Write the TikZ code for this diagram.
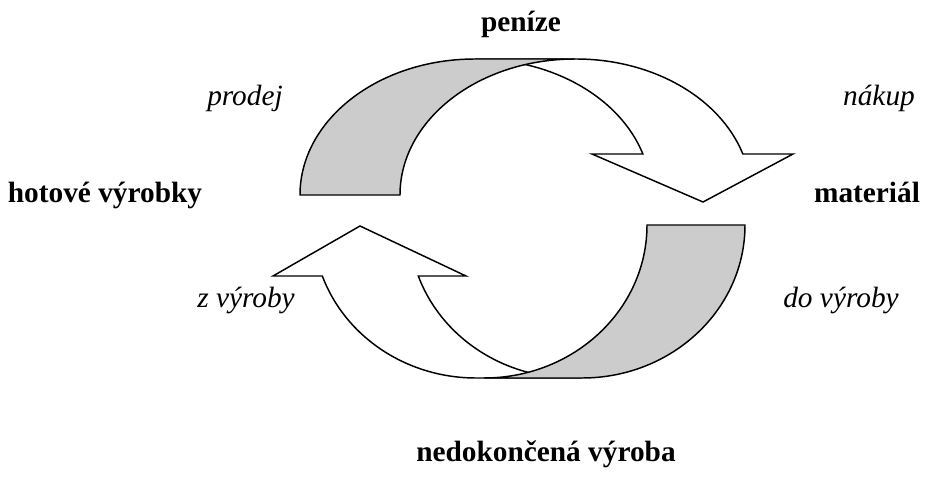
\documentclass[tikz,border=0pt]{standalone}
\usepackage{fontspec}
\setmainfont{Liberation Serif}
\usepackage{xcolor}
\definecolor{bandgray}{HTML}{CCCCCC}

\begin{document}
\begin{tikzpicture}[
  x=0.75pt, y=0.75pt,
  font=\fontsize{22}{26}\selectfont,
  stage/.style={font=\fontsize{22}{26}\selectfont\bfseries, anchor=base},
  flow/.style={font=\fontsize{22}{26}\selectfont\itshape, anchor=base},
  body/.style={draw=black, fill=white, line width=1.1pt, line join=miter},
  band/.style={draw=black, fill=bandgray, line width=1.1pt, line join=miter},
]
\useasboundingbox (0,0) rectangle (940,476);

% ============================================================
% UPPER ARROW: hotove vyrobky -> penize -> material
% ============================================================
\draw[body] (475,417) -- (576,417)
  arc[start angle=90, end angle=17.55, x radius=175, y radius=136]
  -- (793,322) -- (703,274) -- (592,322) -- (642.9,322)
  arc[start angle=17.55, end angle=90, x radius=175, y radius=136]
  -- cycle;
\draw[band] (300,281)
  arc[start angle=180, end angle=90, x radius=175, y radius=136]
  -- (575,417)
  arc[start angle=90, end angle=180, x radius=175, y radius=136]
  -- cycle;

% ============================================================
% LOWER ARROW: material -> nedokoncena vyroba -> hotove vyrobky
% ============================================================
\draw[body] (582,98) -- (476,98)
  arc[start angle=270, end angle=199.47, x radius=163, y radius=153]
  -- (273,200) -- (360,250) -- (466,200) -- (418.3,200)
  arc[start angle=199.47, end angle=270, x radius=163, y radius=153]
  -- cycle;
\draw[band] (745,251)
  arc[start angle=0, end angle=-90, x radius=163, y radius=153]
  -- (484,98)
  arc[start angle=270, end angle=360, x radius=163, y radius=153]
  -- cycle;

% stages
\node[stage] (penize) at (521,444) {peníze};
\node[stage] (hotove) at (105,273) {hotové výrobky};
\node[stage] (material) at (867,273) {materiál};
\node[stage] (nedokoncena) at (546,15) {nedokončená výroba};

% flows
\node[flow] (prodej) at (245,370) {prodej};
\node[flow] (nakup) at (879,370) {nákup};
\node[flow] (zvyroby) at (246,169) {z výroby};
\node[flow] (dovyroby) at (841,169) {do výroby};

\end{tikzpicture}
\end{document}
